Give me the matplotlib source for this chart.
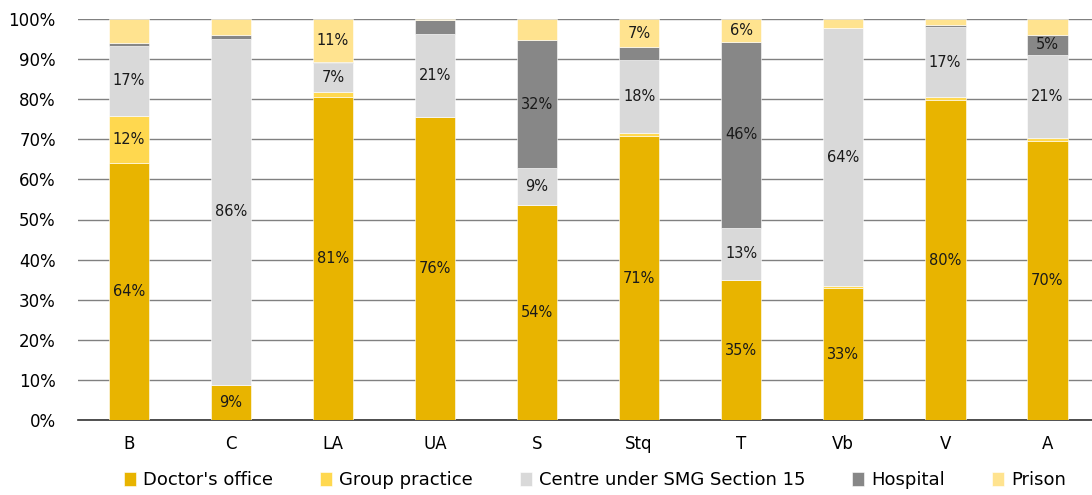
import numpy as np
import matplotlib.pyplot as plt

categories = ['B', 'C', 'LA', 'UA', 'S', 'Stq', 'T', 'Vb', 'V', 'A']
series_names = ["Doctor's office", 'Group practice', 'Centre under SMG Section 15',
                'Hospital', 'Prison']

doctor = [64.1, 8.7, 80.6, 75.6, 53.6, 70.8, 34.9, 32.9, 79.8, 69.6]
group = [11.8, 0.0, 1.3, 0.0, 0.0, 0.8, 0.0, 0.4, 0.7, 0.7]
centre = [17.3, 86.4, 7.2, 20.7, 9.2, 18.2, 13.0, 64.4, 17.4, 20.8]
hospital = [0.8, 0.9, 0.2, 3.4, 32.0, 3.2, 46.4, 0.0, 0.5, 5.0]
prison = [6.0, 4.0, 10.7, 0.3, 5.2, 7.0, 5.7, 2.3, 1.6, 3.9]

# which segments carry a value label
doctor_lab = [1, 1, 1, 1, 1, 1, 1, 1, 1, 1]
group_lab = [1, 0, 0, 0, 0, 0, 0, 0, 0, 0]
centre_lab = [1, 1, 1, 1, 1, 1, 1, 1, 1, 1]
hospital_lab = [0, 0, 0, 0, 1, 0, 1, 0, 0, 1]
prison_lab = [0, 0, 1, 0, 0, 1, 1, 0, 0, 0]

colors = ['#E8B400', '#FFD84F', '#D9D9D9', '#878787', '#FFE38F']

values = [doctor, group, centre, hospital, prison]
labels = [doctor_lab, group_lab, centre_lab, hospital_lab, prison_lab]

fig = plt.figure(figsize=(10.92, 4.95), dpi=100)
ax = fig.add_axes([78 / 1092, 75 / 495, 1 - 78 / 1092, 401 / 495])

x = np.arange(len(categories))
bottom = np.zeros(len(categories))
handles = []
for vals, labs, col, name in zip(values, labels, colors, series_names):
    vals = np.array(vals)
    b = ax.bar(x, vals, 0.4, bottom=bottom, color=col, edgecolor='white',
               linewidth=0.4, zorder=3, label=name)
    handles.append(b)
    for xi, v, bt, l in zip(x, vals, bottom, labs):
        if l:
            ax.text(xi, bt + v / 2, '%d%%' % round(v), ha='center', va='center',
                    fontsize=10.5, color='#1a1a1a', zorder=4)
    bottom += vals

ax.set_xlim(-0.5, 9.44)
ax.set_ylim(0, 100)
ax.set_yticks(range(0, 101, 10))
ax.set_yticklabels(['%d%%' % t for t in range(0, 101, 10)], fontsize=12)
ax.set_xticks(x)
ax.set_xticklabels(categories, fontsize=12)
ax.tick_params(axis='both', length=0)
ax.tick_params(axis='y', pad=16)
ax.tick_params(axis='x', pad=11)
ax.yaxis.grid(True, color='#808080', linewidth=1.0, zorder=0)
for s in ['top', 'right', 'left']:
    ax.spines[s].set_visible(False)
ax.spines['bottom'].set_color('#333333')
ax.spines['bottom'].set_linewidth(1.2)

fig.legend(handles=handles, loc='center', bbox_to_anchor=(595 / 1092, 15 / 495),
           ncol=5, frameon=False, fontsize=13, handlelength=0.65, handleheight=0.8,
           handletextpad=0.4, columnspacing=2.6)

plt.savefig('out.png', dpi=100)
